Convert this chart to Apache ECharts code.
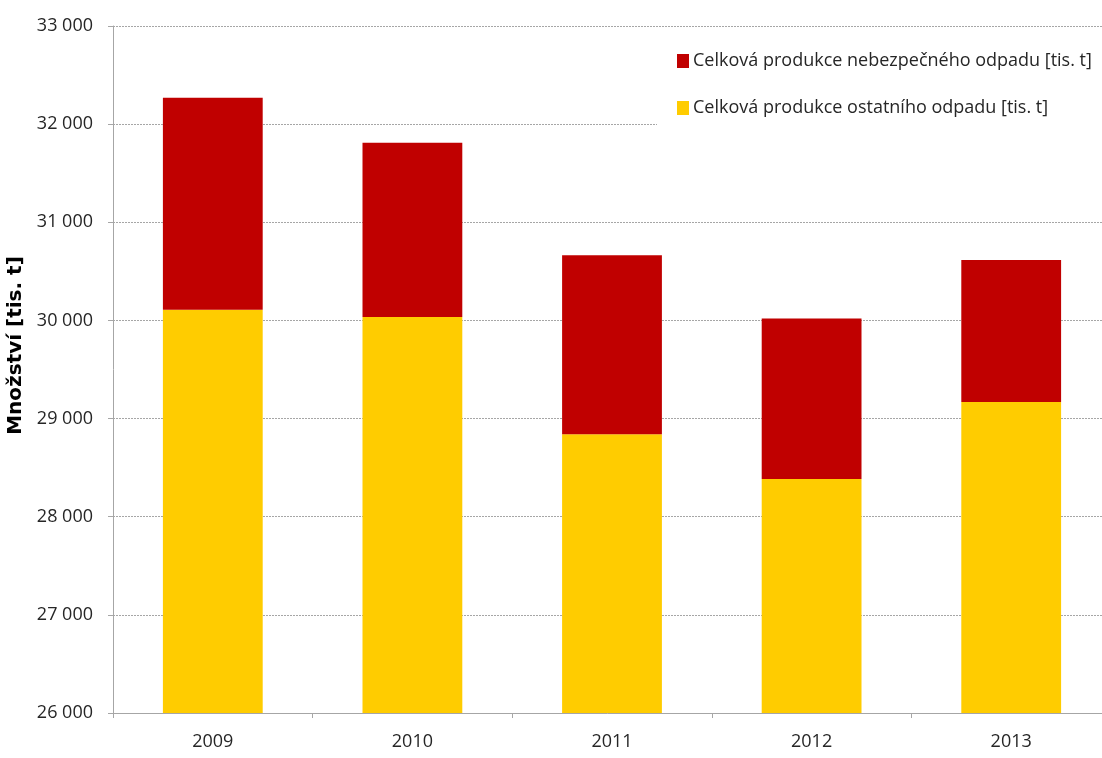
<!DOCTYPE html>
<html>
<head>
<meta charset="utf-8">
<script src="https://cdn.jsdelivr.net/npm/echarts@6/dist/echarts.min.js"></script>
<style>
html,body{margin:0;padding:0;background:#fff;}
#chart{width:1102px;height:758px;}
</style>
</head>
<body>
<div id="chart"></div>
<script>
const categories = ['2009', '2010', '2011', '2012', '2013'];
const hazardousTotal = [32270, 31810, 30665, 30020, 30615]; // top of stacked bar
const otherWaste = [30110, 30035, 28840, 28385, 29170];
const hazardousWaste = hazardousTotal.map((t, i) => t - otherWaste[i]);
const seriesNames = ['Celková produkce nebezpečného odpadu [tis. t]', 'Celková produkce ostatního odpadu [tis. t]'];
const axisName = 'Množství [tis. t]';

const chart = echarts.init(document.getElementById('chart'));
const font = '"Open Sans", sans-serif';
chart.setOption({
  animation: false,
  backgroundColor: '#fff',
  grid: { left: 113, width: 998, top: 26, height: 687, containLabel: false, outerBoundsMode: 'none' },
  legend: {
    data: seriesNames,
    orient: 'vertical',
    left: 657,
    top: 42,
    itemWidth: 12,
    itemHeight: 14,
    itemGap: 29,
    padding: [10, 12, 10, 20],
    backgroundColor: '#fff',
    icon: 'rect',
    textStyle: { fontFamily: font, fontSize: 18, color: '#262626', padding: [0, 0, 0, -1] }
  },
  xAxis: {
    type: 'category',
    data: categories,
    axisLine: { lineStyle: { color: '#a6a6a6' } },
    axisTick: { show: true, length: 5, lineStyle: { color: '#a6a6a6' } },
    axisLabel: { fontFamily: font, fontSize: 18, color: '#262626', margin: 20 }
  },
  yAxis: {
    type: 'value',
    min: 26000, max: 33000, interval: 1000,
    name: axisName,
    nameLocation: 'middle',
    nameGap: 77,
    nameRotate: 90,
    nameTextStyle: { fontFamily: 'DejaVu Sans', fontWeight: 'bold', fontSize: 20, color: '#000', padding: [0, 0, 0, 48] },
    axisLine: { show: true, lineStyle: { color: '#a6a6a6' } },
    axisTick: { show: true, length: 5, lineStyle: { color: '#a6a6a6' } },
    splitLine: { lineStyle: { color: '#a6a6a6', type: [2, 1] } },
    axisLabel: {
      fontFamily: font, fontSize: 18, color: '#262626', margin: 20,
      formatter: v => String(v).replace(/\B(?=(\d{3})+(?!\d))/g, ' ')
    }
  },
  series: [
    {
      name: seriesNames[1], type: 'bar', stack: 'total', data: otherWaste,
      barWidth: '50%', itemStyle: { color: '#FFCC00' }
    },
    {
      name: seriesNames[0], type: 'bar', stack: 'total', data: hazardousWaste,
      barWidth: '50%', itemStyle: { color: '#C00000' }
    }
  ]
});
</script>
</body>
</html>
